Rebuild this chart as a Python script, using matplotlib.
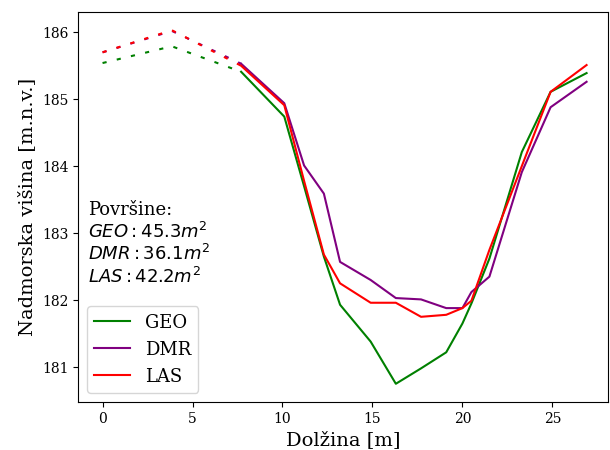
import matplotlib
matplotlib.use("Agg")
import matplotlib.pyplot as plt

# Extrapolated (dotted) edge of the profile
x_edge = [0.0, 3.85, 7.7]
geo_edge = [185.54, 185.79, 185.41]
dmr_edge = [185.70, 186.02, 185.53]
las_edge = [185.70, 186.03, 185.50]

# Measured profile (solid)
x = [7.7, 10.1, 11.2, 12.3, 13.2, 14.9, 16.3, 17.7, 19.1, 20.0, 20.5, 21.5, 23.3, 24.9, 26.9]
geo = [185.41, 184.74, 183.70, 182.65, 181.93, 181.38, 180.75, 180.98, 181.22, 181.65,
       181.95, 182.62, 184.21, 185.11, 185.39]
dmr = [185.53, 184.94, 184.01, 183.59, 182.57, 182.30, 182.03, 182.01, 181.88, 181.88,
       182.12, 182.35, 183.91, 184.88, 185.26]
las = [185.50, 184.91, 183.78, 182.68, 182.25, 181.96, 181.96, 181.75, 181.78, 181.88,
       181.99, 182.75, 184.00, 185.11, 185.51]

areas = {"GEO": 45.3, "DMR": 36.1, "LAS": 42.2}

plt.rcParams["font.family"] = "DejaVu Serif"

fig = plt.figure(figsize=(6.1, 4.5), dpi=100)
ax = fig.add_axes([0.128, 0.107, 0.869, 0.866])

dots = (0, (2, 5))
for xs, ys, color in [(x_edge, geo_edge, "green"), (x_edge, dmr_edge, "purple"),
                      (x_edge, las_edge, "red")]:
    ax.plot(xs, ys, color=color, linestyle=dots, linewidth=1.5)

ax.plot(x, geo, color="green", linewidth=1.5, label="GEO")
ax.plot(x, dmr, color="purple", linewidth=1.5, label="DMR")
ax.plot(x, las, color="red", linewidth=1.5, label="LAS")

ax.set_xlim(-1.36, 28.1)
ax.set_ylim(180.48, 186.30)
ax.set_xticks([0, 5, 10, 15, 20, 25])
ax.set_yticks([181, 182, 183, 184, 185, 186])
ax.tick_params(labelsize=10)

ax.set_xlabel("Dolžina [m]", fontsize=14)
ax.set_ylabel("Nadmorska višina [m.n.v.]", fontsize=14)

txt = "Površine:\n" + "\n".join(f"${k}: {v}m^2$" for k, v in areas.items())
ax.text(0.019, 0.515, txt, transform=ax.transAxes, fontsize=13, va="top", ha="left",
        linespacing=1.15)

ax.legend(loc="lower left", fontsize=13)

fig.savefig("out.png", dpi=100)
